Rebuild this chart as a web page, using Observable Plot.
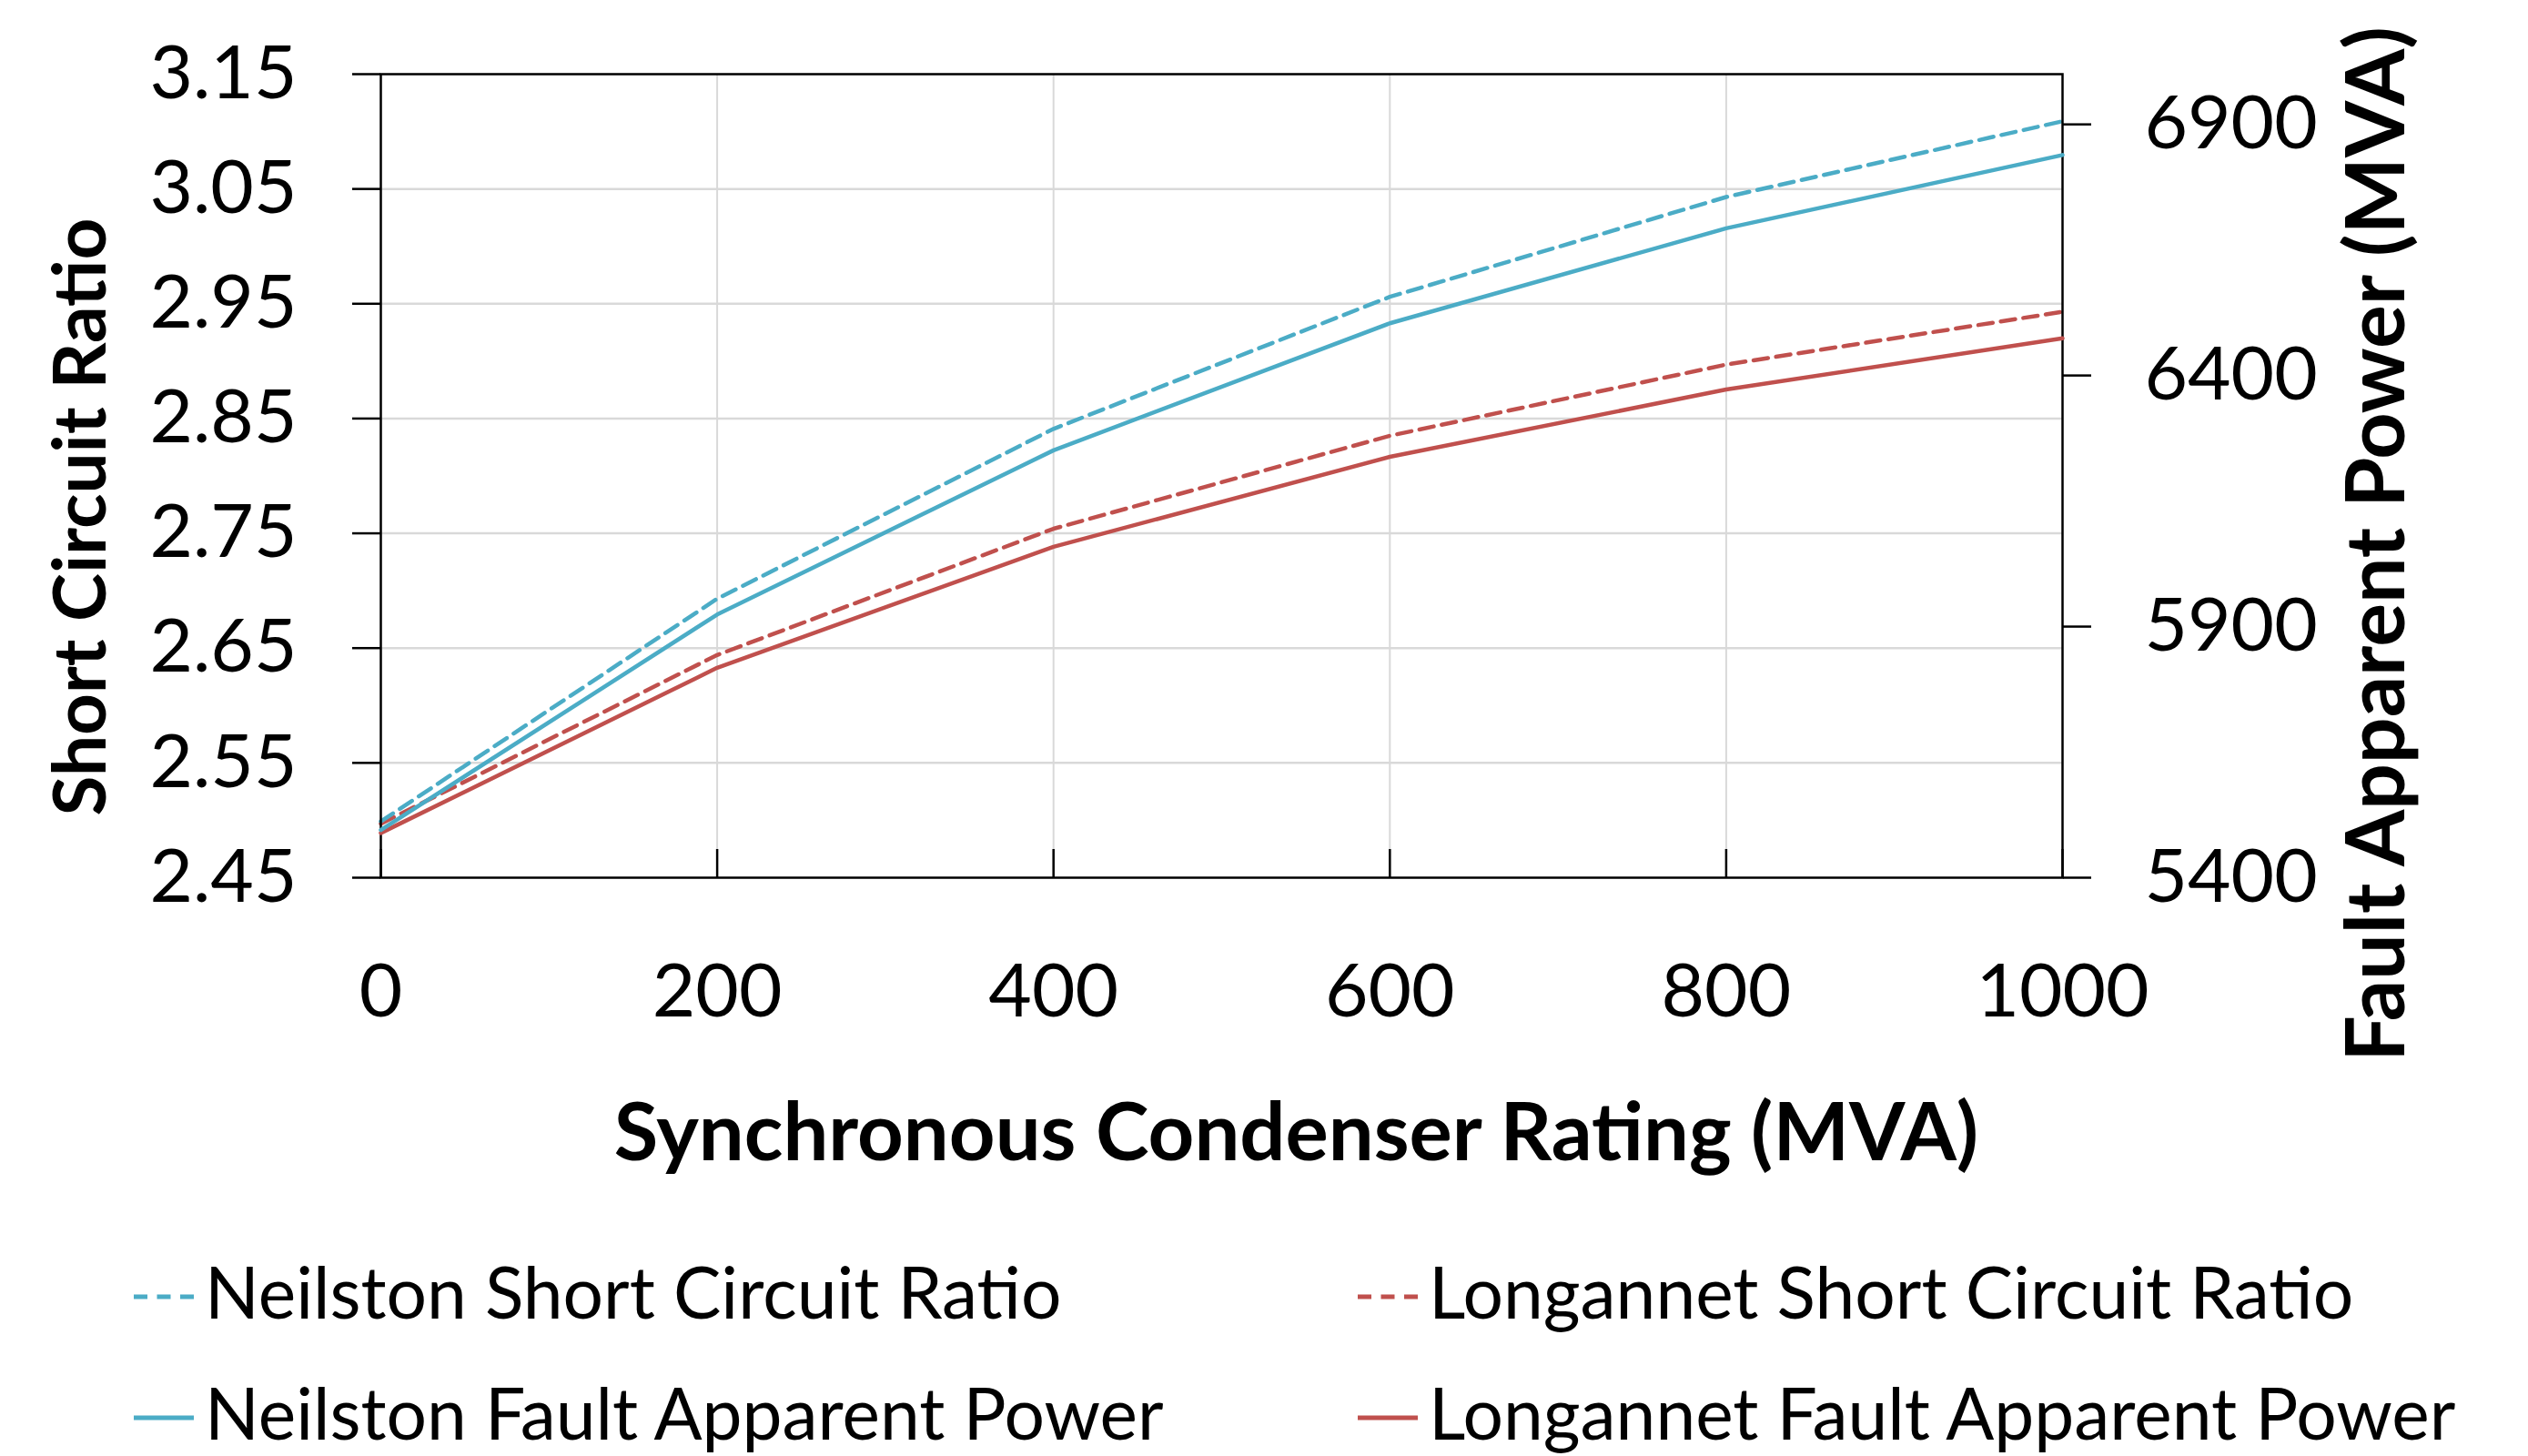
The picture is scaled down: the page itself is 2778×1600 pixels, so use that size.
<!DOCTYPE html>
<html>
<head>
<meta charset="utf-8">
<script src="https://cdn.jsdelivr.net/npm/d3@7"></script>
<script src="https://cdn.jsdelivr.net/npm/@observablehq/plot@0.6"></script>
<style>
  html, body { margin: 0; padding: 0; background: #fff; }
  #chart { position: relative; width: 2778px; height: 1330px; }
  #chart svg { position: absolute; left: 0; top: 0; }
  #legend { display: block; }
</style>
</head>
<body>
<div id="chart"></div>
<div id="legendBox"></div>
<script>
// ---- Data ----
const ratingMVA = [0, 200, 400, 600, 800, 1000];
const neilstonSCR = [2.499, 2.693, 2.841, 2.956, 3.043, 3.109];
const longannetSCR = [2.497, 2.644, 2.754, 2.835, 2.897, 2.943];
const neilstonFault = [5495, 5924, 6251, 6504, 6693, 6839];
const longannetFault = [5489, 5818, 6059, 6238, 6372, 6474];

const xTicks = [0, 200, 400, 600, 800, 1000];
const leftTicks = [2.45, 2.55, 2.65, 2.75, 2.85, 2.95, 3.05, 3.15];
const rightTicks = [5400, 5900, 6400, 6900];

const seriesNames = ["Neilston Short Circuit Ratio", "Longannet Short Circuit Ratio",
                     "Neilston Fault Apparent Power", "Longannet Fault Apparent Power"];
const blue = "#4bacc6", red = "#c0504d";
const seriesColors = [blue, red, blue, red];
const seriesDashed = [true, true, false, false];

const xTitle = "Synchronous Condenser Rating (MVA)";
const yLeftTitle = "Short Circuit Ratio";
const yRightTitle = "Fault Apparent Power (MVA)";

// ---- Tables ----
const rows = (vals) => ratingMVA.map((x, i) => ({x, v: vals[i]}));
const nSCR = rows(neilstonSCR), lSCR = rows(longannetSCR);
const nFault = rows(neilstonFault), lFault = rows(longannetFault);

const W = 2778, H = 1330;
const common = {
  width: W, height: H,
  marginLeft: 418, marginRight: 512, marginTop: 81, marginBottom: 366,
  x: {domain: [0, 1000], axis: null},
  style: {background: "transparent", fontFamily: "Lato, sans-serif", fontSize: "82px", color: "#000"}
};
const dash = "16,9";
const lw = 4.5;

const left = Plot.plot({
  ...common,
  y: {domain: [2.45, 3.15], axis: null},
  marks: [
    Plot.gridY(leftTicks.slice(1, -1), {stroke: "#d9d9d9", strokeOpacity: 1, strokeWidth: 2.5}),
    Plot.gridX(xTicks.slice(1, -1), {stroke: "#d9d9d9", strokeOpacity: 1, strokeWidth: 2}),
    Plot.line(lSCR, {x: "x", y: "v", stroke: red, strokeWidth: lw, strokeDasharray: dash}),
    Plot.line(nSCR, {x: "x", y: "v", stroke: blue, strokeWidth: lw, strokeDasharray: dash}),
    Plot.frame({stroke: "#000", strokeWidth: 2.5}),
    Plot.axisY(leftTicks, {anchor: "left", tickSize: 31, tickPadding: 61, strokeWidth: 2.5,
      tickFormat: d3.format(".2f"), label: null, fontSize: 82}),
    Plot.axisX(xTicks, {anchor: "bottom", tickSize: 0, tickPadding: 94, label: null, fontSize: 82,
      tickFormat: d => String(d)}),
    Plot.ruleX(xTicks, {x: d => d, y1: 2.45, y2: 2.45, insetTop: -31, stroke: "#000", strokeWidth: 2.5}),
    Plot.text([xTitle], {frameAnchor: "bottom", dx: 82, dy: 310, lineAnchor: "bottom", textAnchor: "middle",
      fontWeight: "bold", fontSize: 88.5, fill: "#000"}),
    Plot.text([yLeftTitle], {frameAnchor: "left", rotate: -90, dx: -303, dy: 45, lineAnchor: "bottom",
      textAnchor: "middle", fontWeight: "bold", fontSize: 80, fill: "#000"})
  ]
});

const right = Plot.plot({
  ...common,
  y: {domain: [5400, 7000], axis: null},
  marks: [
    Plot.line(lFault, {x: "x", y: "v", stroke: red, strokeWidth: lw}),
    Plot.line(nFault, {x: "x", y: "v", stroke: blue, strokeWidth: lw}),
    Plot.axisY(rightTicks, {anchor: "right", tickSize: 31, tickPadding: 59, strokeWidth: 2.5,
      label: null, fontSize: 82, tickFormat: d => String(d)}),
    Plot.text([yRightTitle], {frameAnchor: "right", rotate: -90, dx: 375, dy: 75, lineAnchor: "bottom",
      textAnchor: "middle", fontWeight: "bold", fontSize: 89.5, fill: "#000"})
  ]
});

const chart = document.getElementById("chart");
chart.appendChild(left);
chart.appendChild(right);

// ---- Legend (below the plot) ----
const LH = 270;
const legend = d3.select("#legendBox").append("svg")
  .attr("id", "legend")
  .attr("width", W).attr("height", LH)
  .style("font-family", "Lato, sans-serif");
const colX = [147, 1492];
const rowBase = [119, 252];
seriesNames.forEach((name, i) => {
  const cx = colX[i % 2], by = rowBase[Math.floor(i / 2)];
  const g = legend.append("g");
  g.append("line")
    .attr("x1", cx).attr("x2", cx + 66)
    .attr("y1", by - 24).attr("y2", by - 24)
    .attr("stroke", seriesColors[i]).attr("stroke-width", 5)
    .attr("stroke-dasharray", seriesDashed[i] ? "15,10.5" : null);
  g.append("text")
    .attr("x", cx + 78).attr("y", by)
    .attr("font-size", 78.5).attr("fill", "#000")
    .text(name);
});
</script>
</body>
</html>
